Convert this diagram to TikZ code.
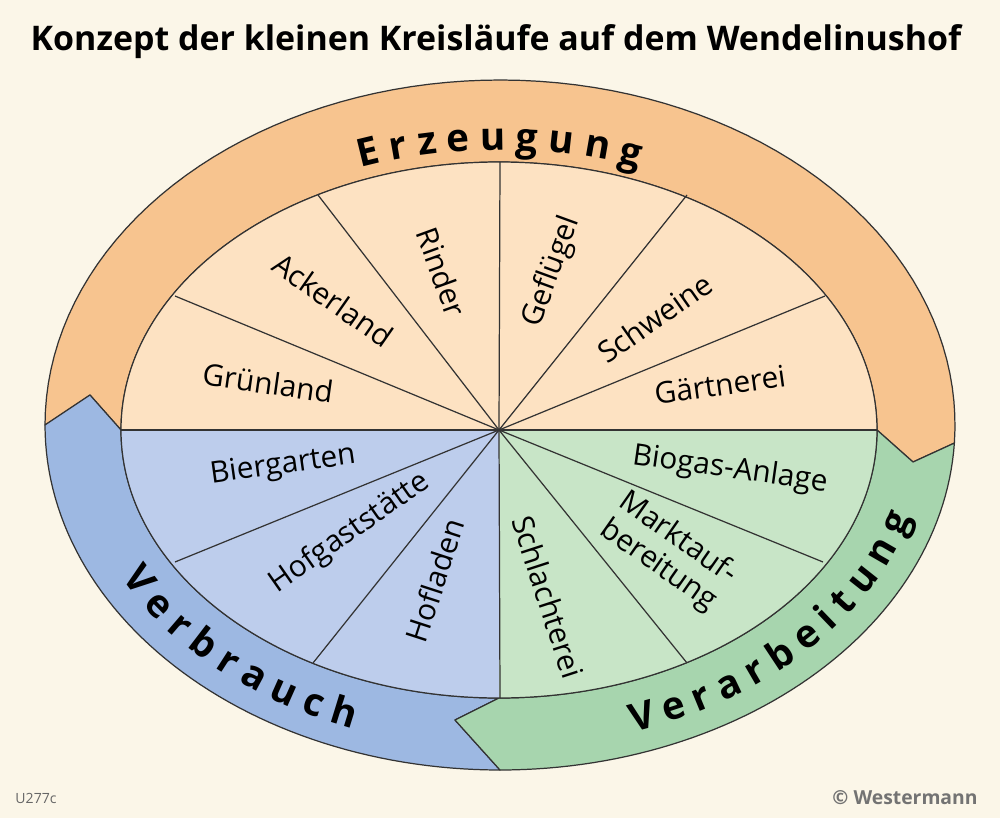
\documentclass[tikz,border=0pt]{standalone}
\usepackage{fontspec}
\setmainfont{Open Sans}
\usetikzlibrary{decorations.text}
\definecolor{bg}{HTML}{FBF6E8}
\definecolor{ringO}{HTML}{F7C48F}
\definecolor{fillO}{HTML}{FDE2C2}
\definecolor{ringB}{HTML}{9DB8E2}
\definecolor{fillB}{HTML}{BDCDEC}
\definecolor{ringG}{HTML}{A7D5AE}
\definecolor{fillG}{HTML}{C8E5C7}
\definecolor{ln}{HTML}{333333}
\tikzset{
  ring/.style={draw=ln, line width=0.7pt, line join=round},
  sector/.style={draw=ln, line width=0.7pt},
  lab/.style={font=\fontsize{17}{19}\selectfont, text=black, align=center},
  ringtext/.style={decorate, decoration={text along path, text align=center,
     text={|\fontsize{22}{24}\selectfont\bfseries|#1}}}
}
\begin{document}
\begin{tikzpicture}[x=0.02cm,y=-0.02cm]
\fill[bg] (0,0) rectangle (1000,818);
\useasboundingbox (0,0) rectangle (1000,818);
% title and footer
\node[font=\fontsize{19.3}{21}\selectfont\bfseries] (title) at (496,42) {Konzept der kleinen Kreisläufe auf dem Wendelinushof};
\node[font=\fontsize{8}{9}\selectfont, text=black!60] (code) at (36,798) {U277c};
\node[font=\fontsize{11}{12}\selectfont\bfseries, text=black!55] (copy) at (905,798) {© Westermann};
% rings
\fill[ringO, ring] (90,395) -- plot[domain=180:-3,samples=80] ({500+455*cos(\x)},{425-345*sin(\x)}) -- (913,462) -- (877,430)
  -- plot[domain=0:180,samples=80] ({499+378*cos(\x)},{430-268*sin(\x)}) -- cycle;
\fill[ringB, ring] (90,395) -- plot[domain=180:270,samples=60] ({500+455*cos(\x)},{425-345*sin(\x)}) -- (455,720)
  -- plot[domain=270:180,samples=60] ({499+378*cos(\x)},{430-268*sin(\x)}) -- cycle;
\fill[ringG, ring] (455,720) -- plot[domain=270:357,samples=60] ({500+455*cos(\x)},{425-345*sin(\x)}) -- (913,462)
  -- plot[domain=360:270,samples=60] ({499+378*cos(\x)},{430-268*sin(\x)}) -- cycle;
% inner disk
\coordinate (c) at (499,430);
\fill[fillO] plot[domain=0:180,samples=80] ({499+378*cos(\x)},{430-268*sin(\x)}) -- cycle;
\fill[fillB] (c) -- plot[domain=180:270,samples=60] ({499+378*cos(\x)},{430-268*sin(\x)}) -- cycle;
\fill[fillG] (c) -- plot[domain=270:360,samples=60] ({499+378*cos(\x)},{430-268*sin(\x)}) -- cycle;
\draw[sector] (499,430) ellipse [x radius=378, y radius=268];
\coordinate (w) at (121,430); \coordinate (e) at (877,430);
\coordinate (a) at (175,296); \coordinate (b) at (318,195); \coordinate (d) at (500,162);
\coordinate (f) at (687,195); \coordinate (g) at (825,296); \coordinate (h) at (175,562);
\coordinate (i) at (313,663); \coordinate (j) at (500,698); \coordinate (k) at (823,562);
\coordinate (l) at (687,663);
\draw[sector] (w) -- (e);
\foreach \n in {a,b,d,f,g,h,i,j,k,l} \draw[sector] (c) -- (\n);
% ring texts
\path[ringtext={E r z e u g u n g}] plot[domain=115:65,samples=40] ({500+400*cos(\x)},{430-280*sin(\x)});
\path[ringtext={V e r b r a u c h}] plot[domain=195:260,samples=40] ({500+428*cos(\x)},{430-318*sin(\x)});
\path[ringtext={V e r a r b e i t u n g}] plot[domain=282:352,samples=40] ({500+428*cos(\x)},{430-318*sin(\x)});
% labels
\node[lab, rotate=-8] (gr) at (268,383) {Grünland};
\node[lab, rotate=-35] (ac) at (333,300) {Ackerland};
\node[lab, rotate=-70] (ri) at (442,272) {Rinder};
\node[lab, rotate=70] (ge) at (552,272) {Geflügel};
\node[lab, rotate=35] (sc) at (655,318) {Schweine};
\node[lab, rotate=8] (ga) at (720,385) {Gärtnerei};
\node[lab, rotate=-8] (bi) at (730,470) {Biogas-Anlage};
\node[lab, rotate=-35] (ma) at (668,552) {Marktauf-\\bereitung};
\node[lab, rotate=-72] (sl) at (548,597) {Schlachterei};
\node[lab, rotate=72] (ho) at (435,580) {Hofladen};
\node[lab, rotate=35] (hg) at (350,533) {Hofgaststätte};
\node[lab, rotate=8] (bg) at (283,466) {Biergarten};
\end{tikzpicture}
\end{document}
